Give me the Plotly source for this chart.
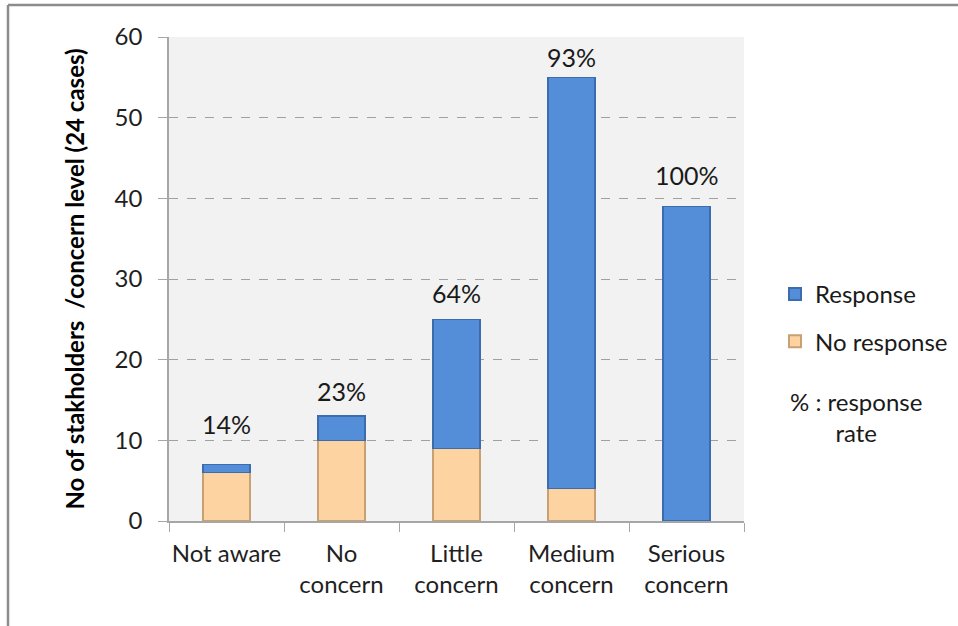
import plotly.graph_objects as go

categories = ["Not aware", "No<br>concern", "Little<br>concern", "Medium<br>concern", "Serious<br>concern"]
no_response = [6, 10, 9, 4, 0]
response = [1, 3, 16, 51, 39]
y_ticks = [0, 10, 20, 30, 40, 50, 60]

totals = [a + b for a, b in zip(no_response, response)]
rate_labels = [f"{round(r / t * 100)}%" for r, t in zip(response, totals)]
label_shift = [41, 25, 26, 20, 31]

FONT = "Lato"
FS = 24
W, H = 958, 626
ML, MR, MT, MB = 169, 214, 37, 105
PW, PH = W - ML - MR, H - MT - MB

def px_x(p):
    return (p - ML) / PW

def px_y(p):
    return (H - MB - p) / PH

fig = go.Figure()
fig.add_trace(go.Bar(
    x=categories, y=no_response, name="No response",
    legendgroup="nr", legendrank=2,
    marker=dict(color="#FCD3A1", line=dict(color="#C8A072", width=1.5)),
))
fig.add_trace(go.Bar(
    x=categories, y=response, name="Response",
    legendgroup="r", legendrank=1,
    marker=dict(color="#558ED8", line=dict(color="#3B6CAD", width=1.5)),
))

annotations = []
for c, t, lab, s in zip(categories, totals, rate_labels, label_shift):
    annotations.append(dict(
        x=c, y=t, text=lab, showarrow=False, yanchor="middle",
        yshift=s, font=dict(family=FONT, size=25, color="#1a1a1a"),
    ))
annotations.append(dict(
    xref="paper", yref="paper", x=px_x(856), y=px_y(417), xanchor="center",
    yanchor="middle", showarrow=False, align="center",
    text="% : response<br>rate",
    font=dict(family=FONT, size=FS, color="#1a1a1a"),
))

fig.update_layout(
    width=W, height=H,
    margin=dict(l=ML, r=MR, t=MT, b=MB, autoexpand=False),
    barmode="stack", bargap=0.59,
    paper_bgcolor="white", plot_bgcolor="#F2F2F2",
    font=dict(family=FONT, size=FS, color="#262626"),
    showlegend=True,
    legend=dict(
        x=px_x(775), y=px_y(272), xanchor="left", yanchor="top",
        traceorder="grouped", itemsizing="constant",
        font=dict(family=FONT, size=FS, color="#1a1a1a"),
        bgcolor="rgba(0,0,0,0)", tracegroupgap=13,
    ),
    annotations=annotations,
    shapes=[
        dict(type="line", xref="paper", yref="paper",
             x0=px_x(8), x1=px_x(975), y0=px_y(5), y1=px_y(5),
             line=dict(color="#8C8C8C", width=2.5)),
        dict(type="line", xref="paper", yref="paper",
             x0=px_x(8), x1=px_x(8), y0=px_y(5), y1=px_y(640),
             line=dict(color="#8C8C8C", width=2.5)),
    ],
)

fig.update_xaxes(
    showline=True, linecolor="#A6A6A6", linewidth=1.5,
    ticks="outside", tickson="boundaries", ticklen=9, tickcolor="#A6A6A6",
    ticklabelstandoff=10, tickangle=0,
    tickfont=dict(family=FONT, size=FS, color="#1f1f1f"),
    showgrid=False,
)
fig.update_yaxes(
    range=[0, 60], tickvals=y_ticks,
    showline=True, linecolor="#A6A6A6", linewidth=1.5,
    ticks="outside", ticklen=9, tickcolor="#A6A6A6",
    ticklabelstandoff=11,
    tickfont=dict(family=FONT, size=FS, color="#1f1f1f"),
    showgrid=True, gridcolor="#A0A0A0", griddash="dash", gridwidth=1,
    zeroline=False,
    title=dict(text="<b>No of stakholders  /concern level (24 cases)</b>",
               font=dict(family=FONT, size=FS, color="#000000"), standoff=23),
)

fig.write_html("out.html", config={"displayModeBar": False},
               post_script="document.body.style.margin='0';")
